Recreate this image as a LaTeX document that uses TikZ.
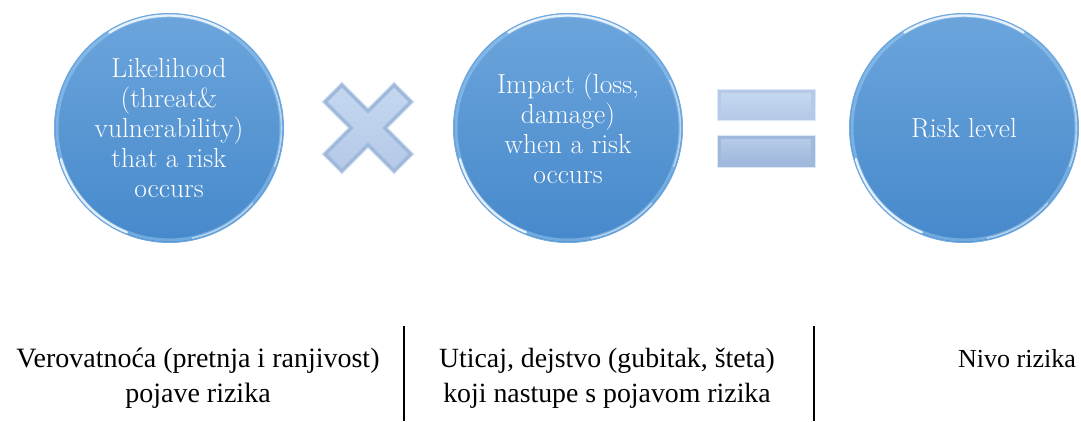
\documentclass[tikz,border=0pt]{standalone}
\usepackage{fontspec}
\newfontfamily\captionfont{Liberation Serif}
\definecolor{bubtop}{HTML}{6CA5DC}
\definecolor{bubbot}{HTML}{4689CB}
\definecolor{bubrim}{HTML}{6FA9E0}
\definecolor{rimglow}{HTML}{A6D2F6}
\definecolor{signlight}{HTML}{C4D7EF}
\definecolor{signmid}{HTML}{B5CAE8}
\definecolor{signdark}{HTML}{9FB8DC}
\definecolor{signedge}{HTML}{DCE8F6}
\tikzset{
  bubble/.style={circle, minimum size=229pt, inner sep=0pt,
    top color=bubtop, bottom color=bubbot, draw=bubrim, line width=1pt,
    text=white, align=center, font=\fontsize{27.5}{30}\selectfont},
  rimband/.style={rimglow, line width=3pt, opacity=0.45},
  gloss/.style={white, line width=2.4pt, line cap=round, opacity=0.8},
  softgloss/.style={white, line width=1.6pt, line cap=round, opacity=0.45},
  caption/.style={align=center, font=\captionfont\fontsize{28}{35}\selectfont},
  divider/.style={black, line width=1.4pt},
}
\begin{document}
\begin{tikzpicture}[x=1pt, y=1pt]
  \useasboundingbox (0,0) rectangle (1081,421);

  % the three bubbles
  \node[bubble] (likely) at (169,293) {Likelihood\\(threat\&\\vulnerability)\\that a risk\\occurs};
  \node[bubble] (impact) at (568,293) {Impact (loss,\\damage)\\when a risk\\occurs};
  \node[bubble] (risk) at (964,293) {Risk level};

  % glassy rim on each bubble
  \foreach \b in {likely, impact, risk} {
    \draw[rimband] (\b.center) circle (112);
    \draw[gloss] ([shift={(122:112.5)}]\b.center) arc (122:58:112.5);
    \draw[gloss] ([shift={(196:112.5)}]\b.center) arc (196:248:112.5);
    \draw[softgloss] ([shift={(340:112.5)}]\b.center) arc (340:385:112.5);
    \draw[softgloss] ([shift={(282:112.5)}]\b.center) arc (282:318:112.5);
  }

  % multiplication sign
  \begin{scope}[shift={(368,293)}, rotate=45]
    \coordinate (times) at (0,0);
    \fill[signdark, draw=signedge, line width=1pt]
      (-14,51) -- (14,51) -- (14,14) -- (51,14) -- (51,-14) -- (14,-14) --
      (14,-51) -- (-14,-51) -- (-14,-14) -- (-51,-14) -- (-51,14) -- (-14,14) -- cycle;
    \shade[top color=signlight, bottom color=signmid]
      (-10,47) -- (10,47) -- (10,10) -- (47,10) -- (47,-10) -- (10,-10) --
      (10,-47) -- (-10,-47) -- (-10,-10) -- (-47,-10) -- (-47,10) -- (-10,10) -- cycle;
  \end{scope}

  % equals sign
  \draw[fill=signmid, draw=signedge, line width=1pt] (717,300) rectangle (815,331);
  \shade[top color=signlight, bottom color=signmid] (721,304) rectangle (811,327);
  \draw[fill=signdark, draw=signedge, line width=1pt] (717,253) rectangle (815,285);
  \shade[top color=signmid, bottom color=signdark] (721,257) rectangle (811,281);

  % captions under the bubbles
  \node[caption] (capA) at (198,43) {Verovatnoća (pretnja i ranjivost)\\pojave rizika};
  \node[caption, font=\captionfont\fontsize{27.8}{35}\selectfont] (capB) at (607,43) {Uticaj, dejstvo (gubitak, šteta)\\koji nastupe s pojavom rizika};
  \node[caption, anchor=base, font=\captionfont\fontsize{26}{35}\selectfont] (capC) at (1017,54) {Nivo rizika};

  % column dividers
  \coordinate (divAtop) at (404,95);
  \coordinate (divAbot) at (404,0);
  \coordinate (divBtop) at (814,95);
  \coordinate (divBbot) at (814,0);
  \draw[divider] (divAtop) -- (divAbot);
  \draw[divider] (divBtop) -- (divBbot);
\end{tikzpicture}
\end{document}
